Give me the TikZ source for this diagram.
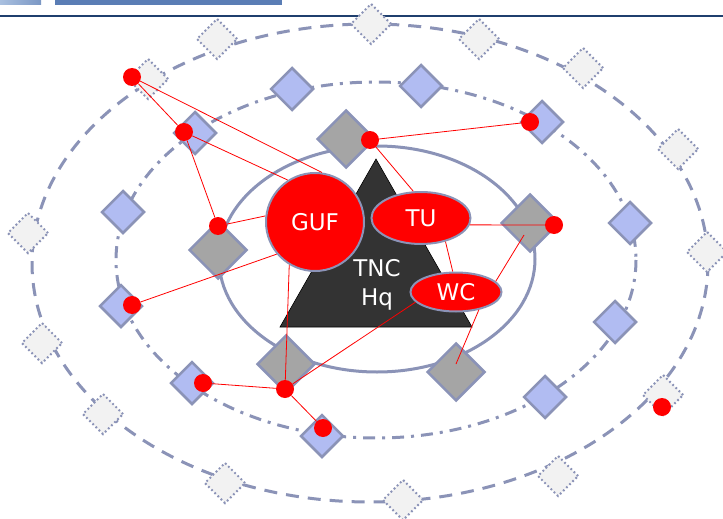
\documentclass[tikz,border=0pt]{standalone}
\usepackage{fontspec}
\setmainfont{DejaVu Sans}
\usetikzlibrary{shapes.geometric}
\definecolor{edgec}{HTML}{8B93B7}
\definecolor{lblue}{HTML}{B1BCF2}
\definecolor{mgray}{HTML}{A5A5A5}
\definecolor{lgray}{HTML}{F2F2F2}
\definecolor{tric}{HTML}{333333}
\definecolor{hdrline}{HTML}{1F3F6E}
\definecolor{hdrbar}{HTML}{5A7DB5}
\definecolor{hdrlight}{HTML}{A9C0E0}
\tikzset{
  ring/.style={draw=edgec, line width=3pt},
  outerring/.style={ring, dash pattern=on 13pt off 9pt},
  midring/.style={ring, dash pattern=on 12pt off 7pt on 3pt off 7pt},
  gdia/.style={diamond, aspect=1, draw=edgec, fill=mgray, line width=2.5pt, minimum width=58pt, minimum height=58pt, inner sep=0pt},
  bdia/.style={diamond, aspect=1, draw=edgec, fill=lblue, line width=2.5pt, minimum width=43pt, minimum height=43pt, inner sep=0pt},
  odia/.style={diamond, aspect=1, draw=edgec, fill=lgray, line width=2pt, dash pattern=on 1.8pt off 2.6pt, minimum width=41pt, minimum height=41pt, inner sep=0pt},
  rdot/.style={circle, fill=red, minimum size=18pt, inner sep=0pt},
  redline/.style={draw=red, line width=0.8pt},
  actor/.style={fill=red, draw=edgec, line width=2pt, text=white, inner sep=0pt, font=\fontsize{23}{27}\selectfont},
}
\begin{document}
\begin{tikzpicture}[x=1pt,y=-1pt]
\useasboundingbox (0,0) rectangle (723,519);
% header
\shade[left color=hdrlight, right color=hdrbar!80] (0,0) rectangle (41,4.5);
\fill[hdrbar] (55,0) rectangle (282,5);
\draw[hdrline, line width=1.4pt] (0,16) -- (723,16);
% rings
\draw[outerring] (370,263) ellipse [x radius=338, y radius=239];
\draw[midring] (376,260) ellipse [x radius=260, y radius=178];
\draw[ring] (377,259) ellipse [x radius=158, y radius=113];
% outer dotted diamonds
\node[odia] (o1) at (148,79) {};
\node[odia] (o2) at (217,39) {};
\node[odia] (o3) at (371,24) {};
\node[odia] (o4) at (479,39) {};
\node[odia] (o5) at (583,68) {};
\node[odia] (o6) at (678,149) {};
\node[odia] (o7) at (707,252) {};
\node[odia] (o8) at (663,395) {};
\node[odia] (o9) at (558,476) {};
\node[odia] (o10) at (403,500) {};
\node[odia] (o11) at (225,483) {};
\node[odia] (o12) at (103,414) {};
\node[odia] (o13) at (42,343) {};
\node[odia] (o14) at (28,233) {};
% blue diamonds
\node[bdia] (b1) at (195,133) {};
\node[bdia] (b2) at (292,89) {};
\node[bdia] (b3) at (421,86) {};
\node[bdia] (b4) at (542,122) {};
\node[bdia] (b5) at (630,223) {};
\node[bdia] (b6) at (615,322) {};
\node[bdia] (b7) at (545,397) {};
\node[bdia] (b8) at (322,436) {};
\node[bdia] (b9) at (192,383) {};
\node[bdia] (b10) at (121,306) {};
\node[bdia] (b11) at (123,212) {};
% gray diamonds
\node[gdia] (g1) at (346,139) {};
\node[gdia] (g2) at (218,250) {};
\node[gdia] (g3) at (530,223) {};
\node[gdia] (g4) at (286,364) {};
\node[gdia] (g5) at (456,372) {};
% HQ triangle
\filldraw[fill=tric, draw=black, line width=0.6pt] (376,159) -- (472,327) -- (280,327) -- cycle;
\node[text=white, align=center, font=\fontsize{23}{29}\selectfont] (hq) at (377,285) {TNC\\Hq};
% actors
\node[actor, circle, minimum size=98pt] (GUF) at (315,222) {GUF};
\node[actor, ellipse, minimum width=99pt, minimum height=52pt] (TU) at (421,218) {TU};
\node[actor, ellipse, minimum width=91pt, minimum height=39pt] (WC) at (456,292) {WC};
% free line ends
\coordinate (c1) at (524,235);
\coordinate (c2) at (456,364);
% red dots
\node[rdot] (d1) at (132,77) {};
\node[rdot] (d2) at (184,132) {};
\node[rdot] (d3) at (218,226) {};
\node[rdot] (d4) at (132,305) {};
\node[rdot] (d5) at (203,383) {};
\node[rdot] (d6) at (285,389) {};
\node[rdot] (d7) at (323,428) {};
\node[rdot] (d8) at (370,140) {};
\node[rdot] (d9) at (530,122) {};
\node[rdot] (d10) at (554,225) {};
\node[rdot] (d11) at (662,407) {};
% red links
\draw[redline] (d1) -- (d2);
\draw[redline] (d1) -- (GUF.82);
\draw[redline] (d2) -- (GUF.123);
\draw[redline] (d2) -- (d3);
\draw[redline] (d3) -- (GUF.173);
\draw[redline] (d4) -- (GUF.220);
\draw[redline] (GUF.239) -- (d6);
\draw[redline] (d5) -- (d6);
\draw[redline] (d6) -- (d7);
\draw[redline] (d6) -- (WC.194);
\draw[redline] (d8) -- (d9);
\draw[redline] (d8) -- (TU.106);
\draw[redline] (TU.352) -- (d10);
\draw[redline] (TU.316) -- (WC.99);
\draw[redline] (WC.15) -- (c1);
\draw[redline] (WC.322) -- (c2);
\end{tikzpicture}
\end{document}
